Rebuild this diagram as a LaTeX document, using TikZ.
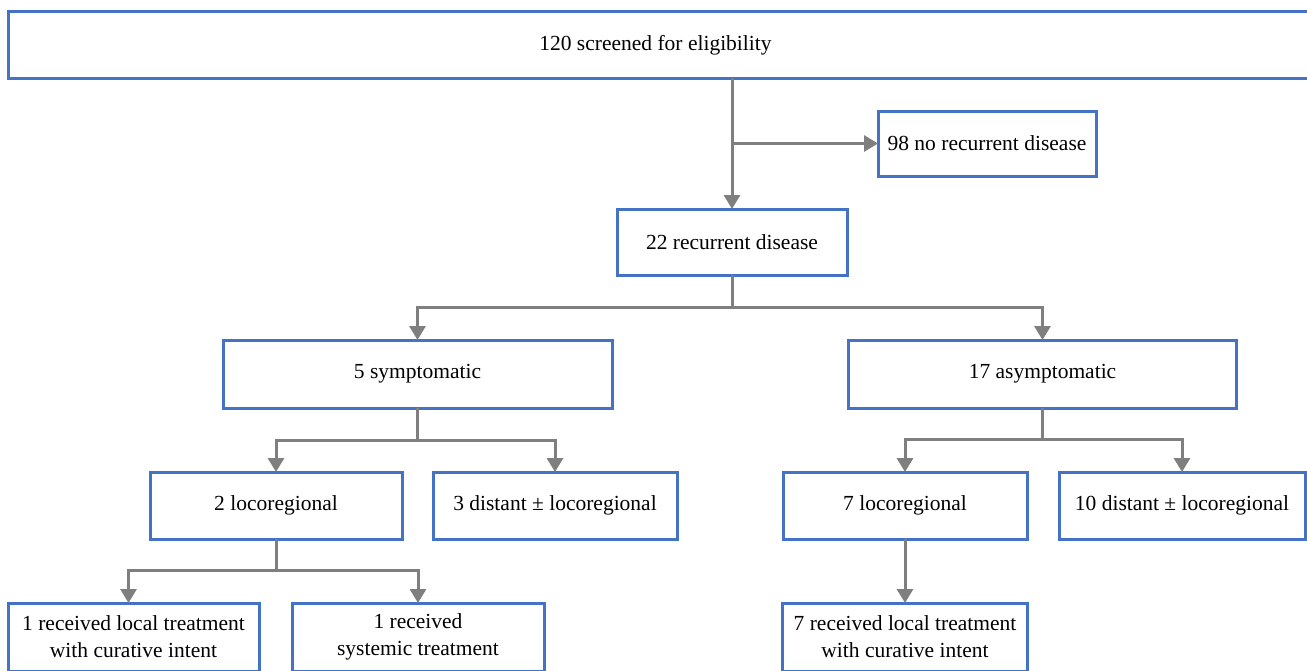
\documentclass[tikz,border=0pt]{standalone}
\usepackage{fontspec}
\setmainfont{Liberation Serif}
\usetikzlibrary{arrows.meta}
\definecolor{boxblue}{HTML}{4472C4}
\definecolor{linegray}{HTML}{7F7F7F}
\begin{document}
\begin{tikzpicture}[x=1pt,y=-1pt,
  box/.style={draw=boxblue, line width=3pt, fill=white, inner sep=0pt, outer sep=0pt,
    align=center, font=\fontsize{21.5}{27}\selectfont},
  arr/.style={draw=linegray, line width=3pt, -{Triangle[length=14pt,width=16pt]}}]
\useasboundingbox (0,0) rectangle (1307,670);
\fill[white] (0,0) rectangle (1307,670);
\node[box, minimum width=1312pt, minimum height=66.5pt] (top) at (664,44.75) {\hspace*{-17pt}\raisebox{-2pt}{120 screened for eligibility}};
\node[box, minimum width=218pt, minimum height=65pt] (no) at (987,143.5) {98 no recurrent disease};
\node[box, minimum width=230pt, minimum height=66pt] (rec) at (732,242) {22 recurrent disease};
\node[box, minimum width=389pt, minimum height=68pt] (sym) at (417.5,374) {5 symptomatic};
\node[box, minimum width=388pt, minimum height=68pt] (asym) at (1042.5,374) {17 asymptomatic};
\node[box, minimum width=252pt, minimum height=67pt] (loc1) at (276,505.5) {2 locoregional};
\node[box, minimum width=244pt, minimum height=67pt] (dist1) at (555,505.5) {3 distant ± locoregional};
\node[box, minimum width=244pt, minimum height=67pt] (loc2) at (905,505.5) {7 locoregional};
\node[box, minimum width=246pt, minimum height=67pt] (dist2) at (1182,505.5) {10 distant ± locoregional};
\node[box, minimum width=251pt, minimum height=68pt] (lt1) at (133.5,637) {1 received local treatment\\with curative intent};
\node[box, minimum width=252pt, minimum height=68pt] (sys) at (418,637) {1 received\\systemic treatment};
\node[box, minimum width=245pt, minimum height=68pt] (lt2) at (905,637) {7 received local treatment\\with curative intent};
% connectors
\draw[arr] (top.south -| rec.north) -- (rec.north);
\draw[arr] (rec.north |- no.west) -- (no.west);
\draw[arr] (rec.south) -- ++(0,32) -| (sym.north);
\draw[arr] (rec.south) -- ++(0,32) -| (asym.north);
\draw[arr] (sym.south) -- ++(0,32) -| (loc1.north);
\draw[arr] (sym.south) -- ++(0,32) -| (dist1.north);
\draw[arr] (asym.south) -- ++(0,31) -| (loc2.north);
\draw[arr] (asym.south) -- ++(0,31) -| (dist2.north);
\draw[arr] (loc1.south) -- ++(0,31) -| ([xshift=-5pt]lt1.north);
\draw[arr] (loc1.south) -- ++(0,31) -| (sys.north);
\draw[arr] (loc2.south) -- (lt2.north);
\end{tikzpicture}
\end{document}
